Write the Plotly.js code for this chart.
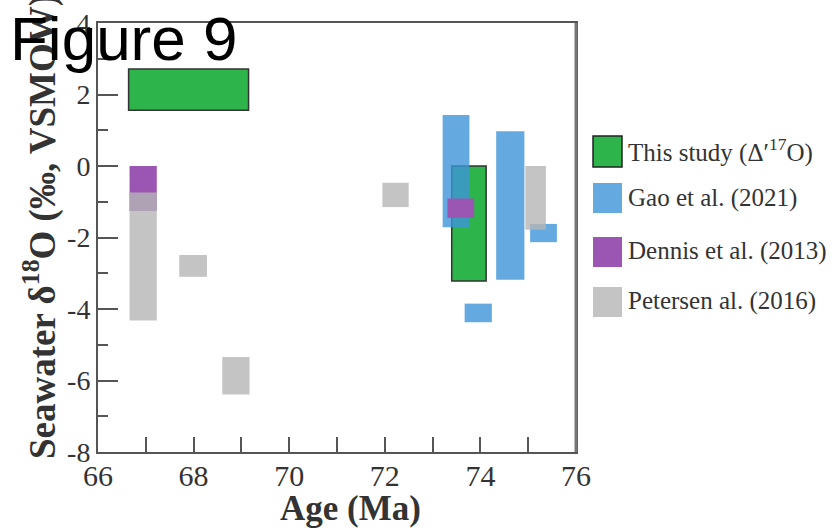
<!DOCTYPE html>
<html>
<head>
<meta charset="utf-8">
<script src="https://cdn.plot.ly/plotly-3.0.1.min.js"></script>
<style>html,body{margin:0;padding:0;background:#fff;}#chart{width:839px;height:530px;}</style>
</head>
<body>
<div id="chart"></div>
<script>
// ---- data: [age left, age right, d18O low, d18O high] ----
const seriesNames = ["This study (Δ′<sup>17</sup>O)", "Gao et al. (2021)", "Dennis et al. (2013)", "Petersen al. (2016)"];
const thisStudy = [[66.64, 69.15, 1.56, 2.71], [73.40, 74.12, -3.22, 0.0]];
const gao2021 = [[73.21, 73.77, -1.71, 1.43], [74.33, 74.92, -3.18, 0.97], [75.04, 75.60, -2.13, -1.62], [73.67, 74.24, -4.37, -3.85]];
const dennis2013 = [[66.66, 67.23, -1.26, 0.0], [73.31, 73.87, -1.45, -0.91]];
const petersen2016 = [[66.66, 67.23, -4.32, -0.74], [67.70, 68.28, -3.10, -2.49], [68.60, 69.17, -6.39, -5.34], [71.95, 72.50, -1.15, -0.47], [74.94, 75.37, -1.78, 0.0]];
const xTicks = [66, 68, 70, 72, 74, 76];
const yTicks = [-8, -6, -4, -2, 0, 2, 4];

// ---- styling ----
const colors = ["#2db44b", "#3d95da", "#9b55b3", "#b5b5b5"];
const opac = [1, 0.8, 1, 0.8];
const lines = [{color: "#333", width: 1.5}, {width: 0}, {width: 0}, {width: 0}];
const allSeries = [thisStudy, gao2021, dennis2013, petersen2016];

const traces = allSeries.map((s, i) => ({
  type: "bar",
  name: seriesNames[i],
  x: s.map(r => (r[0] + r[1]) / 2),
  width: s.map(r => r[1] - r[0]),
  base: s.map(r => r[2]),
  y: s.map(r => r[3] - r[2]),
  marker: {color: colors[i], opacity: opac[i], line: lines[i]},
  hoverinfo: "skip",
  showlegend: false
}));

// plot area in pixels
const L = 98, R = 576, T = 23, B = 452;
const px = p => (p - L) / (R - L);
const py = p => (B - p) / (B - T);

const serif = "Liberation Serif, Times New Roman, serif";
const shapes = [
  {type: "line", xref: "paper", yref: "paper", x0: 1, x1: 1, y0: 0, y1: 1, line: {color: "#777", width: 3}}
];
const legendBoxes = [[136, 167], [183, 213], [237, 267], [287, 317]];
const legendTextY = [150, 198, 251, 301];
const annotations = [];
legendBoxes.forEach((b, i) => {
  shapes.push({type: "rect", xref: "paper", yref: "paper", x0: px(593), x1: px(622), y0: py(b[1]), y1: py(b[0]),
    fillcolor: colors[i], opacity: opac[i], line: i === 0 ? {color: "#222", width: 1.5} : {width: 0}});
  annotations.push({xref: "paper", yref: "paper", x: px(626), y: py(legendTextY[i]), xanchor: "left", yanchor: "middle",
    text: seriesNames[i], showarrow: false, font: {family: serif, size: 25, color: "#333"}});
});
annotations.push({xref: "paper", yref: "paper", x: px(350), y: py(508), xanchor: "center", yanchor: "middle",
  text: "Age (Ma)", showarrow: false, font: {family: serif, size: 35, color: "#333", weight: "bold"}});
annotations.push({xref: "paper", yref: "paper", x: px(40), y: py(227), xanchor: "center", yanchor: "middle", textangle: -90,
  text: "Seawater δ<sup>18</sup>O (‰, VSMOW)", showarrow: false, font: {family: serif, size: 37, color: "#333", weight: "bold"}});
annotations.push({xref: "paper", yref: "paper", x: px(8), y: py(39), xanchor: "left", yanchor: "middle",
  text: "Figure 9", showarrow: false, font: {family: "Liberation Sans, Arial, sans-serif", size: 62, color: "#000"}});

const layout = {
  width: 839, height: 530,
  margin: {l: L, r: 839 - R, t: T, b: 530 - B, pad: 0},
  paper_bgcolor: "#fff", plot_bgcolor: "#fff",
  barmode: "overlay",
  showlegend: false,
  xaxis: {
    range: [66, 76], tickmode: "array", tickvals: xTicks, ticktext: xTicks.map(String),
    ticks: "inside", ticklen: 15, tickwidth: 2, tickcolor: "#555",
    minor: {dtick: 1, tick0: 66, ticks: "inside", ticklen: 15, tickwidth: 2, tickcolor: "#555"},
    showline: true, linecolor: "#555", linewidth: 2, mirror: true,
    showgrid: false, zeroline: false, ticklabelstandoff: -4,
    tickfont: {family: serif, size: 30, color: "#333"}
  },
  yaxis: {
    range: [-8, 4], tickmode: "array", tickvals: yTicks, ticktext: yTicks.map(String),
    ticks: "inside", ticklen: 20, tickwidth: 2, tickcolor: "#555",
    minor: {dtick: 1, tick0: 0, ticks: "inside", ticklen: 10, tickwidth: 2, tickcolor: "#555"},
    showline: true, linecolor: "#555", linewidth: 2, mirror: true,
    showgrid: false, zeroline: false,
    tickfont: {family: serif, size: 28, color: "#333"}
  },
  shapes: shapes,
  annotations: annotations
};

Plotly.newPlot("chart", traces, layout, {displayModeBar: false, staticPlot: true});
</script>
</body>
</html>
